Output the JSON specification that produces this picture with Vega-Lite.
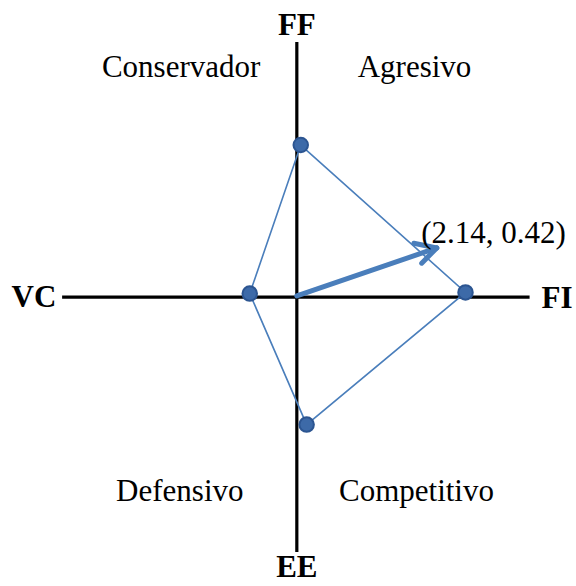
{
  "$schema": "https://vega.github.io/schema/vega-lite/v6.json",
  "width": 576,
  "height": 586,
  "autosize": {"type": "none"},
  "padding": 0,
  "background": "white",
  "config": {"view": {"stroke": null}, "font": "Times New Roman, Liberation Serif, serif"},
  "datasets": {
    "axes": [
      {"seg": "h", "x": -3.59, "y": 0, "o": 0},
      {"seg": "h", "x": 3.56, "y": 0, "o": 1},
      {"seg": "v", "x": 0, "y": 2.18, "o": 0},
      {"seg": "v", "x": 0, "y": -2.18, "o": 1}
    ],
    "poly": [
      {"x": 0.06, "y": 1.30, "o": 0},
      {"x": 2.58, "y": 0.04, "o": 1},
      {"x": 0.15, "y": -1.09, "o": 2},
      {"x": -0.72, "y": 0.03, "o": 3},
      {"x": 0.06, "y": 1.30, "o": 4}
    ],
    "arrow": [
      {"seg": "shaft", "x": 0, "y": 0.01, "o": 0},
      {"seg": "shaft", "x": 2.14, "y": 0.42, "o": 1},
      {"seg": "up", "x": 1.79, "y": 0.46, "o": 0},
      {"seg": "up", "x": 2.14, "y": 0.42, "o": 1},
      {"seg": "lo", "x": 1.91, "y": 0.29, "o": 0},
      {"seg": "lo", "x": 2.14, "y": 0.42, "o": 1}
    ],
    "bold": [
      {"t": "FF", "x": 0, "y": 2.24},
      {"t": "EE", "x": 0, "y": -2.395},
      {"t": "VC", "x": -4.02, "y": -0.085},
      {"t": "FI", "x": 3.98, "y": -0.094}
    ],
    "labels": [
      {"t": "Conservador", "x": -1.77, "y": 1.88},
      {"t": "Agresivo", "x": 1.8, "y": 1.88},
      {"t": "Defensivo", "x": -1.79, "y": -1.74},
      {"t": "Competitivo", "x": 1.83, "y": -1.74},
      {"t": "(2.14, 0.42)", "x": 3.01, "y": 0.46}
    ]
  },
  "layer": [
    {
      "data": {"name": "axes"},
      "mark": {"type": "line", "color": "black", "strokeWidth": 3.2},
      "encoding": {
        "x": {"field": "x", "type": "quantitative", "scale": {"domain": [-4.54, 4.27], "nice": false, "zero": false}, "axis": null},
        "y": {"field": "y", "type": "quantitative", "scale": {"domain": [-2.47, 2.54], "nice": false, "zero": false}, "axis": null},
        "detail": {"field": "seg"},
        "order": {"field": "o"}
      }
    },
    {
      "data": {"name": "poly"},
      "mark": {"type": "line", "color": "#4a7ebb", "strokeWidth": 1.6},
      "encoding": {
        "x": {"field": "x", "type": "quantitative"},
        "y": {"field": "y", "type": "quantitative"},
        "order": {"field": "o"}
      }
    },
    {
      "data": {"name": "arrow"},
      "mark": {"type": "line", "color": "#4a7ebb", "strokeWidth": 5, "strokeCap": "round"},
      "encoding": {
        "x": {"field": "x", "type": "quantitative"},
        "y": {"field": "y", "type": "quantitative"},
        "detail": {"field": "seg"},
        "order": {"field": "o"}
      }
    },
    {
      "data": {"name": "poly"},
      "transform": [{"filter": "datum.o < 4"}],
      "mark": {"type": "point", "filled": true, "size": 210, "color": "#3d6aa8", "stroke": "#2c5591", "strokeWidth": 2, "opacity": 1},
      "encoding": {
        "x": {"field": "x", "type": "quantitative"},
        "y": {"field": "y", "type": "quantitative"}
      }
    },
    {
      "data": {"name": "bold"},
      "mark": {"type": "text", "font": "Times New Roman, Liberation Serif, serif", "fontSize": 31, "fontWeight": "bold", "color": "black", "align": "center", "baseline": "alphabetic"},
      "encoding": {
        "x": {"field": "x", "type": "quantitative"},
        "y": {"field": "y", "type": "quantitative"},
        "text": {"field": "t"}
      }
    },
    {
      "data": {"name": "labels"},
      "mark": {"type": "text", "font": "Times New Roman, Liberation Serif, serif", "fontSize": 31, "color": "black", "align": "center", "baseline": "alphabetic"},
      "encoding": {
        "x": {"field": "x", "type": "quantitative"},
        "y": {"field": "y", "type": "quantitative"},
        "text": {"field": "t"}
      }
    }
  ]
}
